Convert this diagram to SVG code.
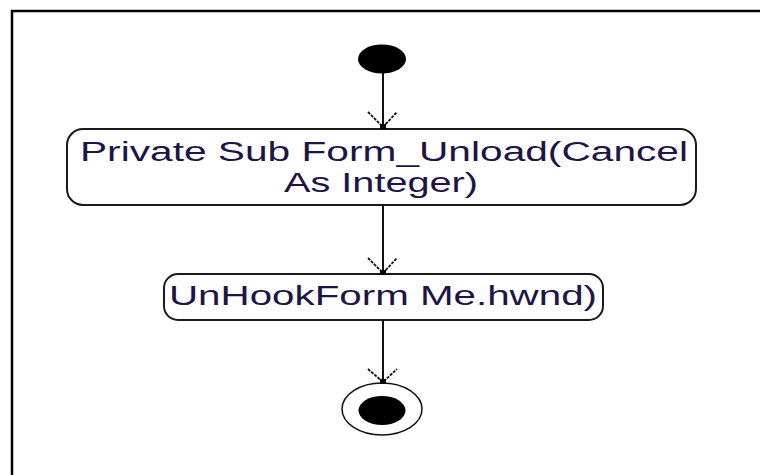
<svg xmlns="http://www.w3.org/2000/svg" width="760" height="475" viewBox="0 0 760 475">
<style>
.frame{stroke:#000;stroke-width:2.5;fill:none}
.node{fill:#fff;stroke:#1a1a1a;stroke-width:2}
.lbl{font-family:"Liberation Sans",Arial,sans-serif;font-size:27px;fill:#1e1448;text-anchor:middle}
.edge{stroke:#111;stroke-width:2;fill:none}
.head{stroke:#111;stroke-width:1.8;fill:none;stroke-dasharray:3 1.2}
.tip{fill:#000}
</style>
<rect width="760" height="475" fill="#fff"/>
<path class="frame" d="M12 475 V11 H760"/>
<g id="start">
<ellipse cx="382" cy="59" rx="24" ry="14.5" fill="#000"/>
</g>
<g id="n1">
<rect class="node" x="67" y="129" width="629" height="76" rx="16" ry="16"/>
<text class="lbl" x="384" y="161" textLength="608" lengthAdjust="spacingAndGlyphs">Private Sub Form_Unload(Cancel</text>
<text class="lbl" x="381" y="192" textLength="194" lengthAdjust="spacingAndGlyphs">As Integer)</text>
</g>
<g id="n2">
<rect class="node" x="164" y="274" width="439" height="46" rx="14" ry="14"/>
<text class="lbl" x="383" y="305" textLength="428" lengthAdjust="spacingAndGlyphs">UnHookForm Me.hwnd)</text>
</g>
<g id="end">
<ellipse cx="382" cy="409" rx="40" ry="26" fill="#fff" stroke="#111" stroke-width="1.5"/>
<ellipse cx="382" cy="410.5" rx="23.5" ry="14.5" fill="#000"/>
</g>
<g id="connectors">
<line class="edge" x1="383" y1="73" x2="383" y2="128"/>
<path class="head" d="M368 112 L383 127 L397 112"/>
<rect class="tip" x="380" y="124" width="6" height="5"/>
<line class="edge" x1="383" y1="205" x2="383" y2="274"/>
<path class="head" d="M368 258 L383 273 L397 258"/>
<rect class="tip" x="380" y="270" width="6" height="5"/>
<line class="edge" x1="383" y1="320" x2="383" y2="383"/>
<path class="head" d="M368 369 L383 382 L397 369"/>
<rect class="tip" x="380" y="379" width="6" height="5"/>
</g>
</svg>
